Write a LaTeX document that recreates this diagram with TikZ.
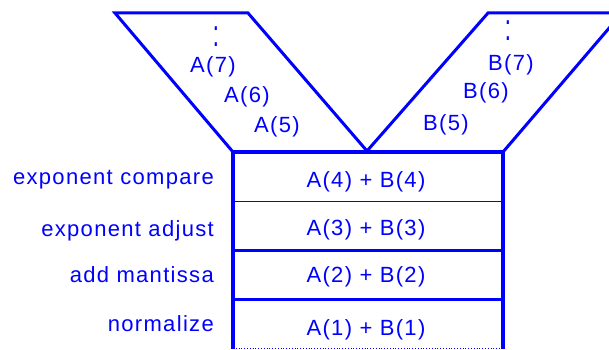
\documentclass[tikz,border=0pt]{standalone}
\usepackage{fontspec}
\setmainfont{Liberation Sans}[LetterSpace=6]
\begin{document}
\begin{tikzpicture}[x=1pt,y=1pt,
  txt/.style={inner sep=0pt, text=blue, font=\fontsize{22}{26}\selectfont},
  lab/.style={txt, anchor=base east},
  cell/.style={txt, anchor=base},
  hopper/.style={draw=blue, line width=3pt, line join=miter},
  frame/.style={draw=blue, line width=4pt},
  thinrule/.style={draw=blue, line width=1pt},
  thickrule/.style={draw=blue, line width=3pt}]
\clip (0,0) rectangle (609,349);
% hoppers
\draw[hopper] (233,197) -- (115,336) -- (248,336) -- (367,198);
\draw[hopper] (367,198) -- (488,336) -- (622,336) -- (503,197);
% pipeline frame
\draw[frame] (233,0) -- (233,197) -- (503,197) -- (503,0);
\draw[thinrule] (233,148) -- (503,148);
\draw[thickrule] (233,99) -- (503,99);
\draw[thickrule] (233,50) -- (503,50);
\draw[blue, line width=0.8pt, dotted] (233,1) -- (503,1);
% stage labels
\node[lab] (l1) at (214,165) {exponent compare};
\node[lab] (l2) at (214,113) {exponent adjust};
\node[lab] (l3) at (214,67) {add mantissa};
\node[lab] (l4) at (214,18) {normalize};
% cells
\node[cell] (c4) at (366,162) {A(4) + B(4)};
\node[cell] (c3) at (366,114) {A(3) + B(3)};
\node[cell] (c2) at (366,67) {A(2) + B(2)};
\node[cell] (c1) at (366,14) {A(1) + B(1)};
% queue A
\node[txt] (ad) at (216,312) {\scalebox{1}[1.7]{:}};
\node[cell] (a7) at (213,277) {A(7)};
\node[cell] (a6) at (247,247) {A(6)};
\node[cell] (a5) at (277,217) {A(5)};
% queue B
\node[txt] (bd) at (508,318) {\scalebox{1}[1.7]{:}};
\node[cell] (b7) at (511,279) {B(7)};
\node[cell] (b6) at (486,251) {B(6)};
\node[cell] (b5) at (446,219) {B(5)};
\end{tikzpicture}
\end{document}
